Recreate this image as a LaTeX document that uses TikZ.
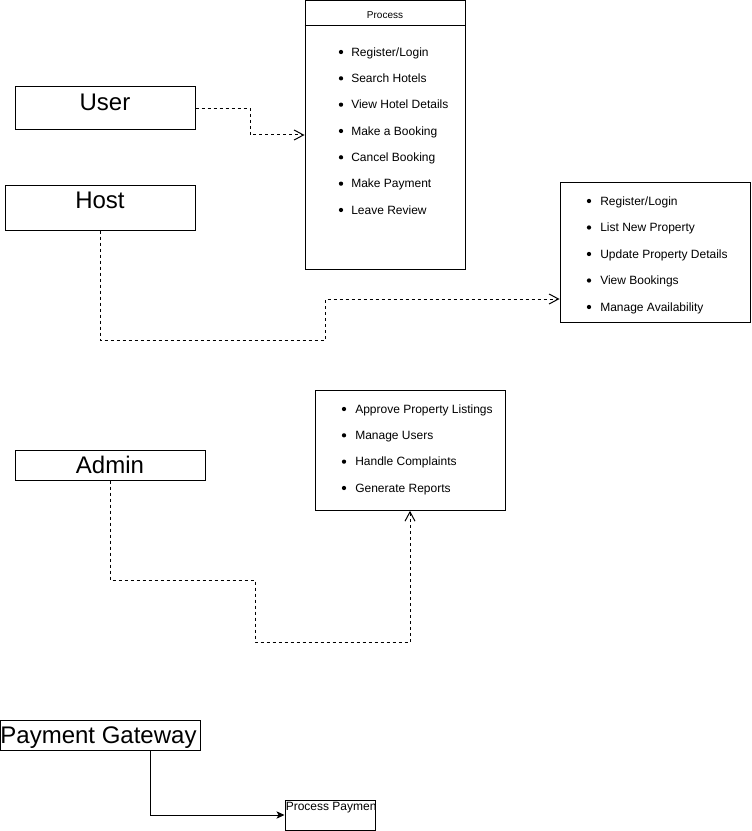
\documentclass[tikz,border=0pt]{standalone}
\usepackage{fontspec}
\setmainfont{Liberation Sans}
\usetikzlibrary{arrows.meta}
\tikzset{
  box/.style={draw, rectangle, line width=0.75pt, inner sep=0pt},
  bigtext/.style={font=\fontsize{18pt}{18pt}\selectfont, inner sep=0pt, text height=12.9pt, text depth=0pt},
  item/.style={anchor=west, font=\fontsize{9pt}{9pt}\selectfont, inner sep=0pt, text height=6.45pt, text depth=0pt},
  flow/.style={line width=0.75pt, dash pattern=on 2.25pt off 2.25pt, -{Straight Barb[length=7pt,width=7.5pt]}},
  solidflow/.style={line width=0.75pt, -{Stealth[length=6pt,width=5.5pt,inset=1.5pt]}}
}
\begin{document}
\begin{tikzpicture}[x=0.75pt, y=-0.75pt]
    \useasboundingbox (0,0) rectangle (751,831);

    % actors
    \node[box, minimum width=135pt, minimum height=32.25pt] (user) at (105,108.5) {};
    \node[bigtext] (usertext) at (105,101.5) {User};
    \node[box, minimum width=142.5pt, minimum height=33.75pt] (host) at (100,207.5) {};
    \node[bigtext] (hosttext) at (100,199.5) {Host};
    \node[box, minimum width=142.5pt, minimum height=22.5pt] (admin) at (110,465) {};
    \node[bigtext] (admintext) at (110,464.5) {Admin};
    \node[box, minimum width=150pt, minimum height=22.5pt] (gateway) at (100.5,735) {};
    \node[bigtext] (gatewaytext) at (98.5,734.5) {Payment Gateway};

    % process boxes
    \node[box, minimum width=120pt, minimum height=202.1pt] (process) at (385,135.25) {};
    \draw[line width=0.75pt] (process.west |- 0,26) -- (process.east |- 0,26);
    \node[font=\fontsize{7.5pt}{7.5pt}\selectfont, inner sep=0pt, text height=5.4pt, text depth=0pt] (processtitle) at (385,14.5) {Process};
    \foreach \t [count=\i] in {Register/Login, Search Hotels, View Hotel Details, Make a Booking, Cancel Booking, Make Payment, Leave Review}{
      \node[item] (p\i) at (351,{51.8+26.33*(\i-1)}) {\t};
      \fill (341,{52+26.33*(\i-1)}) circle (1.6pt);
    }

    \node[box, minimum width=142.5pt, minimum height=105pt] (hostlist) at (655,252.3) {};
    \foreach \t [count=\i] in {Register/Login, List New Property, Update Property Details, View Bookings, Manage Availability}{
      \node[item] (h\i) at (600,{200.8+26.5*(\i-1)}) {\t};
      \fill (589,{201+26.5*(\i-1)}) circle (1.6pt);
    }

    \node[box, minimum width=142.5pt, minimum height=90pt] (adminlist) at (410,450.3) {};
    \foreach \t [count=\i] in {Approve Property Listings, Manage Users, Handle Complaints, Generate Reports}{
      \node[item] (a\i) at (355,{408.8+26.33*(\i-1)}) {\t};
      \fill (344,{409+26.33*(\i-1)}) circle (1.6pt);
    }

    \node[box, minimum width=67.5pt, minimum height=22.5pt] (payproc) at (330,815) {};
    \node[anchor=west, font=\fontsize{9pt}{9pt}\selectfont, inner sep=0pt, text height=6.45pt, text depth=0pt] (payproctext) at (285.5,806.5) {Process Paymen};

    % connectors
    \draw[flow] (user.east) -- (250,108.5) -- (250,135) -- (process.west |- 0,135);
    \draw[flow] (host.south) -- (100,340) -- (325,340) -- (325,299) -- (hostlist.west |- 0,299);
    \draw[flow] (admin.south) -- (110,580) -- (255,580) -- (255,642) -- (410,642) -- (adminlist.south);
    \draw[solidflow] (gateway.south -| 150,0) |- (payproc.west);
\end{tikzpicture}
\end{document}
